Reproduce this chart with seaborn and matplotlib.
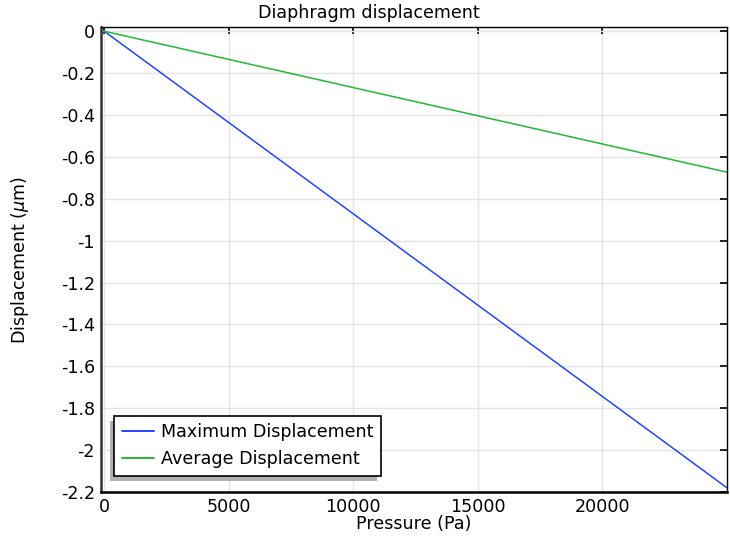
import matplotlib
matplotlib.use("Agg")
import matplotlib.pyplot as plt
import matplotlib.patches as mpatches
from matplotlib.transforms import IdentityTransform
import seaborn as sns
import pandas as pd

# Applied pressure (Pa) and resulting diaphragm deflection (um)
pressure = [0, 5000, 10000, 15000, 20000, 25000]
max_disp = [0.0, -0.436, -0.872, -1.308, -1.744, -2.180]
avg_disp = [0.0, -0.1346, -0.2692, -0.4038, -0.5384, -0.673]
series_names = ["Maximum Displacement", "Average Displacement"]
x_ticks = [0, 5000, 10000, 15000, 20000]
y_ticks = [0, -0.2, -0.4, -0.6, -0.8, -1, -1.2, -1.4, -1.6, -1.8, -2, -2.2]
y_tick_labels = ["0", "-0.2", "-0.4", "-0.6", "-0.8", "-1", "-1.2", "-1.4",
                 "-1.6", "-1.8", "-2", "-2.2"]

sns.set_style("whitegrid")
plt.rcParams["font.family"] = ["DejaVu Sans"]
plt.rcParams["text.color"] = "black"
FS = 12.6

df = pd.concat([
    pd.DataFrame({"Pressure": pressure, "Displacement": max_disp, "Series": series_names[0]}),
    pd.DataFrame({"Pressure": pressure, "Displacement": avg_disp, "Series": series_names[1]}),
])

fig = plt.figure(figsize=(7.3, 5.39), dpi=100)
ax = fig.add_axes([0.1384, 0.0872, 0.8575, 0.8627])

sns.lineplot(data=df, x="Pressure", y="Displacement", hue="Series",
             palette=["#2244ff", "#22b833"], linewidth=1.1, ax=ax)

ax.set_xlim(-125, 25000)
ax.set_ylim(-2.2, 0.02)
ax.set_xticks(x_ticks)
ax.set_xticklabels([str(v) for v in x_ticks])
ax.set_yticks(y_ticks)
ax.set_yticklabels(y_tick_labels)

ax.grid(True, color="#e4e4e4", linewidth=1.0)
for s in ax.spines.values():
    s.set_visible(True)
    s.set_color("black")
    s.set_linewidth(1.0)
ax.spines["left"].set_linewidth(1.8)
ax.spines["left"].set_color("#333333")
ax.spines["bottom"].set_linewidth(1.8)
ax.tick_params(axis="both", which="both", direction="in", length=5, width=1.2,
               top=True, right=True, labelsize=FS, colors="black", pad=4.5)

ax.set_xlabel("Pressure (Pa)", fontsize=FS, color="black")
ax.xaxis.set_label_coords(0.5, -0.05)
ax.set_ylabel(r"Displacement ($\mu$m)", fontsize=FS, color="black")
ax.yaxis.set_label_coords(-0.1116, 0.5)
fig.text(0.5055, 0.975, "Diaphragm displacement", fontsize=FS, color="black",
         ha="center", va="center")

leg = ax.legend(loc="lower left", bbox_to_anchor=(0.0208, 0.0344), borderaxespad=0,
                frameon=True, fancybox=False, shadow=False, framealpha=1.0,
                edgecolor="black", fontsize=FS, borderpad=0.45,
                handlelength=1.85, handletextpad=0.38, labelspacing=0.5)
leg.get_frame().set_linewidth(1.2)
leg.set_title(None)
leg.set_zorder(6)
for t in leg.get_texts():
    t.set_color("black")
for h in leg.get_lines():
    h.set_linewidth(1.4)

# Drop shadow under the legend box, offset down and to the left
fig.canvas.draw()
bb = leg.get_frame().get_window_extent()
shadow = mpatches.Rectangle((bb.x0 - 4, bb.y0 - 5), bb.width, bb.height,
                            transform=IdentityTransform(), facecolor="#b0b0b0",
                            edgecolor="none", zorder=5.5, clip_on=False)
ax.add_artist(shadow)

fig.savefig("out.png", dpi=100)
